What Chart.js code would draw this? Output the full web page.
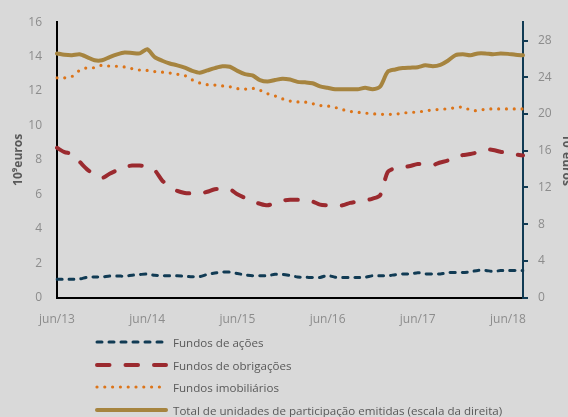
<!DOCTYPE html>
<html><head><meta charset="utf-8">
<script src="https://cdn.jsdelivr.net/npm/chart.js@4"></script>
<style>
html,body{margin:0;padding:0;background:#d9d9d9;width:568px;height:417px;overflow:hidden;position:relative;font-family:'Open Sans',sans-serif}
#c{position:absolute;left:0;top:0}
.row{position:absolute;left:95px;height:16px;display:flex;align-items:center;font-size:11.6px;color:#595959;white-space:nowrap}
.row svg{margin-right:4px}
</style></head><body>
<canvas id="c" width="578" height="351"></canvas>
<div id="legend"></div>
<script>
const monthNames = ['jan','fev','mar','abr','mai','jun','jul','ago','set','out','nov','dez'];
const startMonth = 5, startYear = 13, nPoints = 63;
const categories = [];
for (let i = 0; i < nPoints; i++) {
  const m = (startMonth + i) % 12, y = startYear + Math.floor((startMonth + i) / 12);
  categories.push(monthNames[m] + '/' + y);
}
const leftTicks = [0,2,4,6,8,10,12,14,16];
const rightTicks = [0,4,8,12,16,20,24,28];

const fundosAcoes = [1.06,1.06,1.06,1.08,1.18,1.2,1.2,1.25,1.25,1.25,1.3,1.34,1.37,1.3,1.27,1.27,1.27,1.24,1.21,1.22,1.35,1.43,1.48,1.48,1.4,1.32,1.27,1.27,1.28,1.35,1.35,1.28,1.2,1.18,1.17,1.17,1.29,1.18,1.17,1.17,1.17,1.18,1.27,1.27,1.27,1.33,1.37,1.37,1.45,1.38,1.37,1.37,1.45,1.46,1.46,1.5,1.58,1.58,1.52,1.57,1.58,1.58,1.58];
const fundosObrigacoes = [8.7,8.45,8.35,7.9,7.45,7.15,6.95,7.2,7.4,7.6,7.67,7.67,7.6,7.4,6.8,6.45,6.2,6.08,6.05,6.03,6.15,6.3,6.3,6.3,6.0,5.8,5.6,5.45,5.36,5.5,5.64,5.68,5.68,5.65,5.58,5.4,5.36,5.36,5.36,5.5,5.58,5.64,5.75,5.95,7.3,7.52,7.56,7.65,7.76,7.74,7.7,7.85,7.97,8.2,8.28,8.34,8.45,8.6,8.58,8.47,8.4,8.32,8.26];
const fundosImobiliarios = [12.77,12.77,12.85,13.2,13.35,13.36,13.5,13.45,13.44,13.4,13.3,13.22,13.2,13.13,13.1,13.05,12.98,12.9,12.65,12.47,12.37,12.35,12.3,12.25,12.14,12.11,12.16,12.05,11.85,11.72,11.55,11.42,11.37,11.36,11.27,11.16,11.13,11.05,10.92,10.82,10.77,10.72,10.68,10.65,10.65,10.65,10.72,10.76,10.78,10.85,10.9,10.94,10.97,11.03,11.07,10.9,10.86,10.95,10.96,10.96,10.96,10.96,10.96];
const totalUP = [26.6,26.45,26.4,26.5,26.2,25.85,25.85,26.2,26.5,26.7,26.65,26.6,27.05,26.2,25.8,25.5,25.3,25.05,24.7,24.5,24.75,25.0,25.2,25.15,24.7,24.35,24.2,23.7,23.55,23.7,23.85,23.75,23.5,23.45,23.35,23.0,22.85,22.7,22.7,22.7,22.7,22.85,22.7,23.0,24.6,24.85,25.0,25.05,25.1,25.3,25.2,25.35,25.8,26.4,26.5,26.4,26.6,26.6,26.5,26.6,26.55,26.45,26.4];

const seriesNames = ['Fundos de ações','Fundos de obrigações','Fundos imobiliários','Total de unidades de participação emitidas (escala da direita)'];
const NAVY = '#113b54', RED = '#9b2a2f', ORANGE = '#dc7419', GOLD = '#a6843f';
const styles = [
  {color: NAVY, width: 3, dash: [5,7]},
  {color: RED, width: 4, dash: [12.5,16]},
  {color: ORANGE, width: 3.2, dash: [0,7.8]},
  {color: GOLD, width: 4, dash: []}
];
const allData = [fundosAcoes, fundosObrigacoes, fundosImobiliarios, totalUP];
const axisIds = ['y','y','y','y2'];

const datasets = allData.map((d, k) => ({
  label: seriesNames[k], data: d, yAxisID: axisIds[k],
  borderColor: styles[k].color, borderWidth: styles[k].width, borderDash: styles[k].dash,
  borderCapStyle: 'round', borderJoinStyle: 'round',
  pointRadius: 0, tension: 0.25, fill: false
}));

const font = {family: "'Open Sans', sans-serif", size: 12};
new Chart(document.getElementById('c'), {
  type: 'line',
  data: {labels: categories, datasets},
  options: {
    responsive: false, animation: false,
    layout: {padding: {left: 7, top: 16, right: 0, bottom: 9}},
    plugins: {legend: {display: false}, tooltip: {enabled: false}},
    scales: {
      x: {
        type: 'category', offset: false,
        grid: {display: false, drawTicks: false},
        border: {display: true, color: '#000', width: 2},
        ticks: {
          autoSkip: false, maxRotation: 0, padding: 15, color: '#8c8c8c', font,
          callback: function(v) { const l = this.getLabelForValue(v); return l.startsWith('jun') ? l : null; }
        }
      },
      y: {
        position: 'left', min: 0, max: 16,
        afterBuildTicks: s => { s.ticks = leftTicks.map(v => ({value: v})); },
        afterFit: s => { s.width = 50; },
        grid: {display: false, drawTicks: false},
        border: {display: true, color: '#000', width: 2},
        ticks: {padding: 15, color: '#8c8c8c', font},
        title: {display: true, text: '10⁹euros', color: '#595959', font: {family: "'Open Sans', sans-serif", size: 12, weight: 'bold'}}
      },
      y2: {
        position: 'right', min: 0, max: 30,
        afterBuildTicks: s => { s.ticks = rightTicks.map(v => ({value: v})); },
        afterFit: s => { s.width = 55; },
        grid: {display: true, drawOnChartArea: false, drawTicks: true, tickLength: 5, color: NAVY, lineWidth: 2},
        border: {display: true, color: NAVY, width: 2},
        ticks: {padding: 10, color: '#8c8c8c', font},
        title: {display: true, text: '10⁹euros', color: '#595959', font: {family: "'Open Sans', sans-serif", size: 12, weight: 'bold'}}
      }
    }
  }
});

const legend = document.getElementById('legend');
const rowCenters = [342, 365, 387, 410];
seriesNames.forEach((name, k) => {
  const st = styles[k];
  const row = document.createElement('div');
  row.className = 'row';
  row.style.top = (rowCenters[k] - 8) + 'px';
  row.innerHTML = '<svg width="74" height="8"><line x1="2" y1="4" x2="71" y2="4" stroke="' + st.color +
    '" stroke-width="' + st.width + '" stroke-linecap="round"' + (st.dash.length ? ' stroke-dasharray="' + st.dash.join(' ') + '"' : '') +
    '/></svg><span></span>';
  row.querySelector('span').textContent = name;
  legend.appendChild(row);
});
</script></body></html>
